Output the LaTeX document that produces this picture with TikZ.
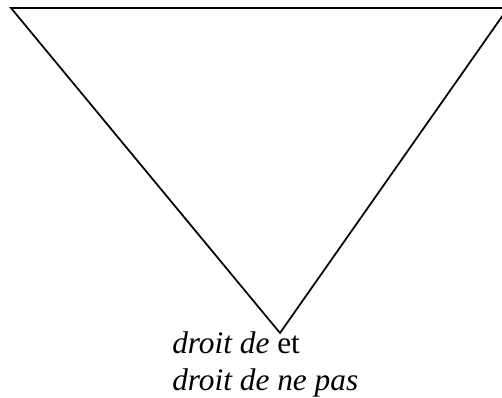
\documentclass[tikz,border=0pt]{standalone}
\usepackage{fontspec}
\setmainfont{Liberation Serif}
\usepackage{tikz}
\usetikzlibrary{positioning}

\begin{document}
\begin{tikzpicture}[x=0.75pt, y=-0.75pt]
  %% Canvas (the triangle runs past the right edge)
  \useasboundingbox (0,0) rectangle (502,398);
  \clip (0,0) rectangle (502,398);
  %% Inverted triangle
  \coordinate (topleft) at (11,8);
  \coordinate (topright) at (508,8);
  \coordinate (tip) at (280,333);
  \draw[line width=1.3pt, line join=miter] (topright) -- (topleft) -- (tip) -- cycle;
  \draw[line width=1.8pt] (topleft) -- (topright);
  %% Labels under the tip
  \node[font=\fontsize{23.5pt}{28pt}\selectfont, anchor=base west, inner sep=0pt] (rightto) at (172,353) {\textit{droit de} et};
  \node[font=\fontsize{23.5pt}{28pt}\selectfont, anchor=base west, inner sep=0pt] (rightnot) at (172,390.5) {\textit{droit de ne pas}};
\end{tikzpicture}
\end{document}
